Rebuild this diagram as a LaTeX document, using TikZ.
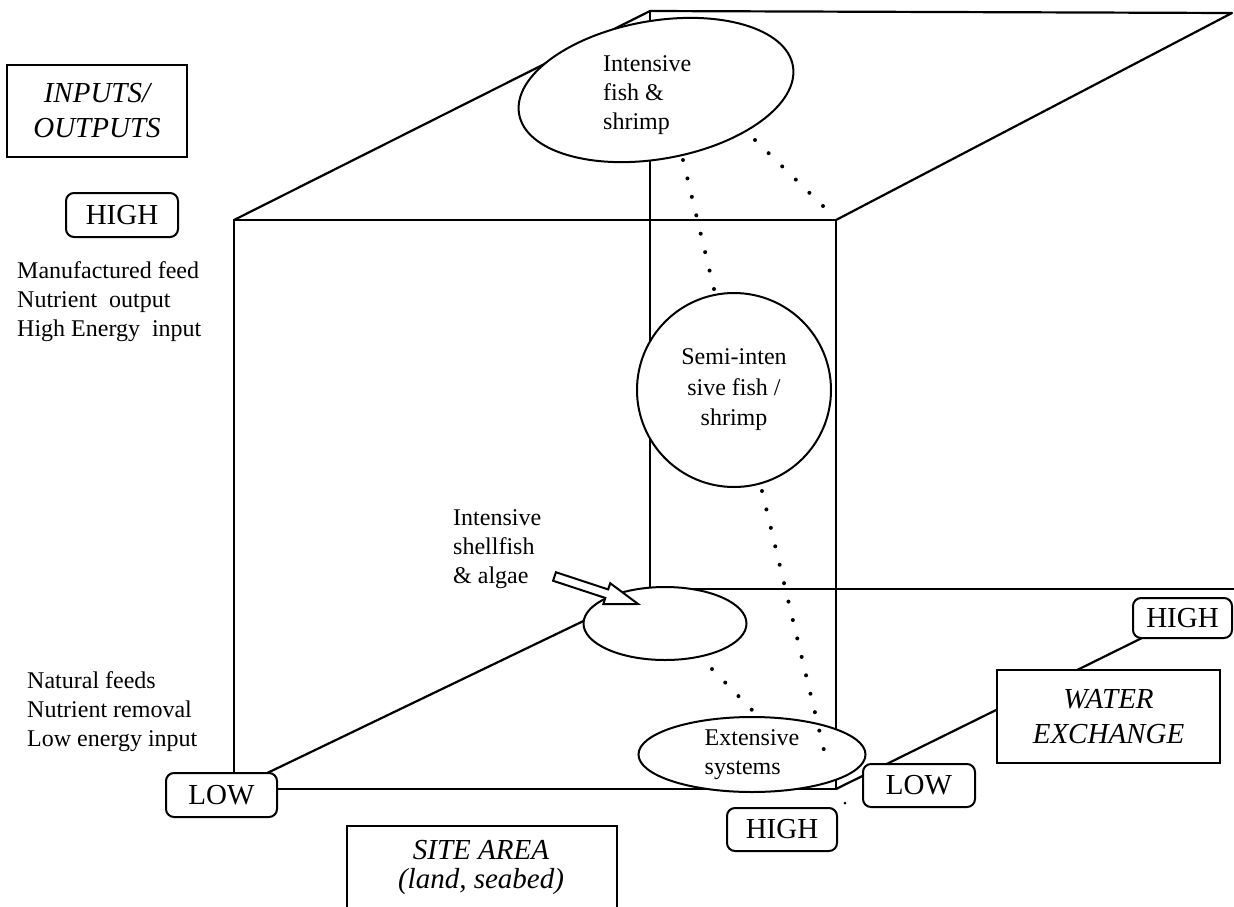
\documentclass[tikz,border=0pt]{standalone}
\usepackage{fontspec}
\setmainfont{Liberation Serif}
\usetikzlibrary{shapes.geometric}
\pgfdeclarelayer{background}
\pgfsetlayers{background,main}

\tikzset{
  edge/.style={line width=2.2pt, line cap=round, line join=round},
  framebox/.style={draw, line width=2pt, fill=white, inner sep=0pt},
  tagbox/.style={draw, line width=2pt, fill=white, rounded corners=8pt,
    inner sep=0pt, font=\fontsize{29}{34}\selectfont},
  blob/.style={draw, line width=2pt, fill=white, inner sep=0pt},
  dotline/.style={line width=4pt, line cap=round, dash pattern=on 0pt off 18.95pt},
  body/.style={font=\fontsize{24}{29}\selectfont, align=left, inner sep=0pt},
  axistitle/.style={font=\fontsize{29}{35}\selectfont\itshape, align=center, inner sep=0pt},
}

\begin{document}
\begin{tikzpicture}[x=1pt, y=-1pt]
\useasboundingbox (0,0) rectangle (1234,906);
\clip (0,0) rectangle (1234,906);

% corners of the cube
\coordinate (ftl) at (234,220);
\coordinate (ftr) at (836,220);
\coordinate (fbl) at (234,789);
\coordinate (fbr) at (836,789);
\coordinate (btl) at (650,11);
\coordinate (btr) at (1232,13);
\coordinate (bbl) at (650,589);
\coordinate (bbr) at (1234,589);

% axis titles and HIGH / LOW tags
\node[framebox, axistitle, minimum width=180pt, minimum height=92pt] (io) at (97,111) {INPUTS/\\OUTPUTS};
\node[tagbox, minimum width=112pt, minimum height=44pt] (hiIO) at (122,215) {HIGH};
\node[tagbox, minimum width=111pt, minimum height=44pt] (loIO) at (221.5,795) {LOW};
\node[tagbox, minimum width=112pt, minimum height=43pt] (loW) at (919,785.5) {LOW};
\node[tagbox, minimum width=110pt, minimum height=43pt] (hiS) at (782,829.5) {HIGH};
\node[tagbox, minimum width=99pt, minimum height=40pt] (hiW) at (1182.5,618) {HIGH};
\node[framebox, axistitle, minimum width=223pt, minimum height=93pt] (wx) at (1108.5,716.5) {WATER\\EXCHANGE};
\node[framebox, minimum width=270pt, minimum height=110pt] (site) at (482,881) {};
\node[axistitle, font=\fontsize{29}{29}\selectfont\itshape] (sitetxt) at (481,867) {SITE AREA\\(land, seabed)};

% side notes
\node[body, anchor=west] (feedhi) at (17,302) {Manufactured feed\\Nutrient\ \ output\\High Energy\ \ input};
\node[body, anchor=west] (feedlo) at (27,712) {Natural feeds\\Nutrient removal\\Low energy input};
\node[body, anchor=west] (shelltxt) at (453,549) {Intensive\\shellfish\\\& algae};

% culture systems
\node[blob, ellipse, minimum width=278pt, minimum height=138pt, rotate=10] (intfish) at (656,90) {};
\node[body, anchor=west] (intfishtxt) at (603,95) {Intensive\\fish \&\\shrimp};
\node[blob, circle, minimum size=194pt, font=\fontsize{24}{30.5}\selectfont, align=center] (semi) at (734,390) {Semi-inten\\sive fish /\\shrimp};
\node[blob, ellipse, minimum width=163pt, minimum height=73pt] (shell) at (665,623.5) {};
\node[blob, ellipse, body, minimum width=227pt, minimum height=75pt] (ext) at (752,754.5) {Extensive\\systems};

% cube edges, behind everything else
\begin{pgfonlayer}{background}
\draw[edge] (ftl) -- (ftr) -- (fbr) -- (fbl) -- cycle;
\draw[edge] (ftl) -- (btl) -- (btr) -- (ftr);
\draw[edge] (btl) -- (bbl) -- (bbr);
\draw[edge] (fbl) -- (bbl);
\draw[edge] (fbr) -- (hiW.center);
\end{pgfonlayer}

% dotted links between systems
\coordinate (da1) at (755,140);
\coordinate (db1) at (823,206);
\coordinate (da2) at (683,160);
\coordinate (db2) at (714,289);
\coordinate (da3) at (762,491);
\coordinate (db3) at (828,767);
\coordinate (da4) at (712,669);
\coordinate (db4) at (752,710);
\coordinate (dstray) at (845,803);
\draw[dotline] (da1) -- (db1);
\draw[dotline] (da2) -- (db2);
\draw[dotline] (da3) -- (db3);
\draw[dotline] (da4) -- (db4);
\fill (dstray) circle (1.5pt);

% hollow pointer to the shellfish ellipse
\coordinate (ptrtail) at (554.5,576.5);
\begin{scope}[shift={(ptrtail)}, rotate=-18.2]
\draw[line width=2pt, fill=white, line join=miter]
  (0,-4.5) -- (55,-4.5) -- (55,-11) -- (88,0) -- (55,11) -- (55,4.5) -- (0,4.5) -- cycle;
\end{scope}
\end{tikzpicture}
\end{document}
